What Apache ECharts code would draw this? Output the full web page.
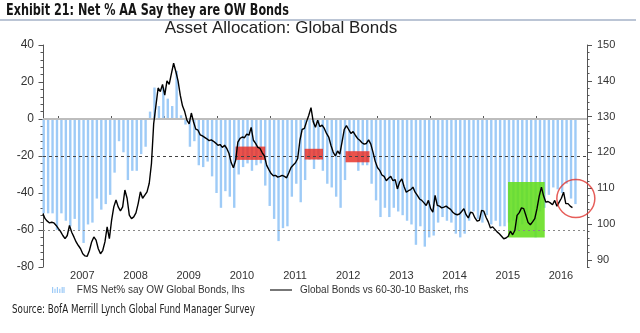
<!DOCTYPE html>
<html><head><meta charset="utf-8">
<script src="https://cdn.jsdelivr.net/npm/echarts@6/dist/echarts.min.js"></script>
<style>html,body{margin:0;padding:0;background:#fff}#c{width:640px;height:333px}</style>
</head><body><div id="c"></div>
<script>
// ---- data ----
const barStart = 2006.733;          // first monthly survey (decimal year)
const barStep = 1 / 12;
const fmsNetOW = [
 -51,-51,-51,-60,-51,-55,-58,-54,-60,-67,-57,-56,
 -43,-49,-46,-41,-29,-12,-18,-33,-28,-28,-19,-15,
 4,17,7,17,11,7,26,2,-3,-15,-12,-25,
 -26,-23,-31,-40,-48,-39,-42,-48,-30,-26,-24,-28,
 -25,-24,-36,-47,-54,-66,-59,-58,-42,-35,-45,-33,
 -22,-27,-22,-28,-35,-37,-42,-48,-33,-20,-18,-28,
 -25,-25,-35,-44,-53,-48,-53,-48,-50,-52,-55,-57,
 -68,-58,-69,-64,-63,-56,-53,-55,-56,-62,-64,-62,
 -55,-50,-54,-56,-52,-57,-55,-58,-58,-56,-55,-60,
 -57,-52,-56,-64,-50,-48,-41,-37,-38,-40,-35,-43,
 -46
];
const lineStart = 2006.718;         // half-monthly readings
const lineStep = 1 / 24;
const bondsVsBasket = [
 102.9,101.5,100.8,100.3,100.5,100.3,99.6,98.7,97.9,96.8,
 95.9,96.8,99.6,97.7,96.4,95.0,94.0,93.1,91.7,91.1,
 91.0,92.6,95.0,96.4,95.5,93.1,91.7,92.6,95.0,99.2,
 95.9,101.0,104.8,106.7,104.8,103.7,104.8,109.5,107.2,102.5,
 101.5,102.0,103.1,105.7,109.0,107.2,108.1,109.0,111.4,116.9,
 128,133,138,137,139,136,140,139,142,144.9,
 142.6,140,136,133,131.4,129,128,131,128.5,126.5,
 126.2,124.9,124.6,124.2,123.8,123.3,123.5,123.1,122.6,122.0,
 122.2,121.4,122.0,121.1,119.7,117.1,115.7,117.8,122.9,123.9,
 124.3,124.1,125.1,124.8,127.0,123.4,122.5,121.4,121.1,119.9,
 119.0,116.4,115.2,114.1,113.5,113.6,113.1,113.3,113.6,113.3,
 112.9,114.3,115.8,116.5,117.1,118.3,123.4,126.4,126.7,128.6,
 130.4,132.5,128.6,127.0,129.0,127.2,127.6,126.7,125.3,124.3,
 122.0,120.1,119.0,120.4,119.5,122.9,126.4,127.5,126.4,125.3,
 125.8,124.8,123.9,123.4,122.7,122.3,122.5,123.5,122.3,120.0,
 117.5,115.8,115.0,113.7,113.3,112.1,112.8,113.3,112.1,112.4,
 109.8,111.7,112.6,110.5,108.9,109.3,109.6,110.3,108.9,108.0,
 107.0,106.6,105.9,105.2,106.6,104.3,103.3,108.0,105.2,105.0,
 104.5,104.7,105.0,104.5,104.1,103.3,102.8,102.6,102.8,103.5,
 104.3,102.6,101.7,103.3,103.1,101.7,100.8,101.0,103.8,103.6,
 101.9,100.6,98.9,99.2,98.5,97.8,97.3,96.6,95.9,96.1,
 96.6,98.0,97.0,98.2,102.4,103.2,104.5,104.3,102.4,100.4,
 99.8,100.6,101.5,104.3,107.8,110.3,107.8,106.1,106.3,105.9,
 105.4,106.6,105.0,106.1,107.2,108.9,105.7,105.7,105.0,104.6
];
const yearTicks = [2007,2008,2009,2010,2011,2012,2013,2014,2015,2016];
const leftMin = -80, leftMax = 40, leftStep = 20;
const rightLabels = [90,100,110,120,130,140,150];
const rightMinor = [];
for (let v = 88; v <= 150; v += 2) rightMinor.push(v);
const refLevels = [{v: 0, kind: 'zero'}, {v: -20, kind: 'dash'}, {v: -60, kind: 'dot'}];
// highlight boxes [fromYear, toYear, topLhs, bottomLhs]
const redBoxes = [[2010.34,2010.90,-14.9,-22.1],[2011.64,2011.985,-16.1,-21.9],[2012.41,2012.86,-17.4,-23.4]];
const greenBoxes = [[2015.465,2016.155,-34,-64]];
const circleMarks = [[2016.74,107.1]];   // rhs units

const barName = 'FMS Net% say OW Global Bonds, lhs';
const lineName = 'Global Bonds vs 60-30-10 Basket, rhs';

const boxRender = (fill) => (params, api) => {
  const a = api.coord([api.value(0), api.value(2)]);
  const b = api.coord([api.value(1), api.value(3)]);
  return {type: 'rect', shape: {x: a[0], y: a[1], width: b[0] - a[0], height: b[1] - a[1]}, style: {fill: fill}};
};

const font = '"Liberation Sans", Arial, sans-serif';
const narrow = '"Liberation Sans Narrow", "DejaVu Sans Condensed", "Liberation Sans", sans-serif';
const axisGray = '#555';

const chart = echarts.init(document.getElementById('c'), null, {renderer: 'canvas'});
chart.setOption({
  animation: false,
  backgroundColor: '#fff',
  grid: {left: 43, right: 53, top: 45, bottom: 66, outerBoundsMode: 'none', containLabel: false},
  graphic: [
    {type: 'text', x: 6, y: 10.5, scaleX: 0.78, originX: 0, originY: 0,
     style: {text: 'Exhibit 21: Net % AA Say they are OW Bonds', font: 'bold 16px ' + narrow, fill: '#151515', verticalAlign: 'middle'}},
    {type: 'line', shape: {x1: 0, y1: 20, x2: 636, y2: 20}, style: {stroke: '#a5b2c7', lineWidth: 1.5}},
    {type: 'text', x: 281, y: 28.5, style: {text: 'Asset Allocation: Global Bonds', font: '17px ' + font, fill: '#222', align: 'center', verticalAlign: 'middle'}},
    {type: 'text', x: 12, y: 310, scaleX: 0.81, originX: 0, originY: 0,
     style: {text: 'Source: BofA Merrill Lynch Global Fund Manager Survey', font: '12px ' + narrow, fill: '#222', verticalAlign: 'middle'}}
  ],
  legend: [
    {left: 47, top: 280, itemWidth: 21, itemHeight: 6, selectedMode: false,
     textStyle: {fontFamily: font, fontSize: 10, color: '#333', padding: [0, 0, 0, 3]},
     data: [{name: barName, icon: 'path://M0,0h2v10h-2zM4,3h2v7h-2zM8,0h2v10h-2zM12,3h2v7h-2zM16,0h2v10h-2zM19,0h2v10h-2z', itemStyle: {color: '#9ecbf7'}}]},
    {left: 265, top: 280, itemWidth: 22, itemHeight: 2, selectedMode: false,
     textStyle: {fontFamily: font, fontSize: 10, color: '#333', padding: [0, 0, 0, 3]},
     data: [{name: lineName, icon: 'rect', itemStyle: {color: '#777'}}]}
  ],
  xAxis: {
    type: 'value', min: 2006.72, max: 2016.95,
    axisLine: {show: true, lineStyle: {color: '#777', width: 1}},
    axisTick: {show: true, inside: true, length: 3, customValues: yearTicks, lineStyle: {color: '#555'}},
    axisLabel: {customValues: yearTicks.map(y => y + 0.46), formatter: v => String(Math.floor(v)), fontFamily: font, fontSize: 11, color: '#333', margin: 3},
    splitLine: {show: false}
  },
  yAxis: [
    {type: 'value', min: leftMin, max: leftMax, interval: leftStep, position: 'left',
     axisLine: {show: true, lineStyle: {color: axisGray}},
     axisTick: {show: true, length: 4.5, lineStyle: {color: axisGray}},
     minorTick: {show: true, splitNumber: 5, length: 2.5, lineStyle: {color: axisGray}},
     axisLabel: {fontFamily: font, fontSize: 12, color: '#333', margin: 9},
     splitLine: {show: false}},
    {type: 'value', min: 88, max: 150, position: 'right',
     axisLine: {show: true, lineStyle: {color: axisGray}},
     axisTick: {show: true, length: 2.5, customValues: rightMinor, lineStyle: {color: axisGray}},
     axisLabel: {customValues: rightLabels, fontFamily: font, fontSize: 11, color: '#333', margin: 10},
     splitLine: {show: false}},
    {type: 'value', min: 88, max: 150, position: 'right',
     axisLine: {show: false},
     axisTick: {show: true, length: 5, customValues: rightLabels, lineStyle: {color: axisGray}},
     axisLabel: {show: false},
     splitLine: {show: false}}
  ],
  series: [
    {name: barName, type: 'bar', xAxisIndex: 0, yAxisIndex: 0, z: 2, barWidth: 2.4,
     itemStyle: {color: '#9ecbf7'},
     data: fmsNetOW.map((v, i) => [barStart + i * barStep, v])},
    {name: 'redBoxes', type: 'custom', xAxisIndex: 0, yAxisIndex: 0, z: 3, silent: true,
     encode: {x: [0, 1], y: [2, 3]}, renderItem: boxRender('rgba(230,45,35,0.82)'), data: redBoxes},
    {name: 'greenBoxes', type: 'custom', xAxisIndex: 0, yAxisIndex: 0, z: 3, silent: true,
     encode: {x: [0, 1], y: [2, 3]}, renderItem: boxRender('rgba(100,222,30,0.88)'), data: greenBoxes},
    {name: 'refs', type: 'line', xAxisIndex: 0, yAxisIndex: 0, z: 4, data: [], silent: true,
     markLine: {silent: true, symbol: ['none', 'none'], label: {show: false}, animation: false,
       data: refLevels.map(r => ({yAxis: r.v, lineStyle: r.kind === 'zero' ? {color: '#bdbdbd', width: 2, type: 'solid'} : r.kind === 'dash' ? {color: '#444', width: 1, type: [3, 3]} : {color: '#888', width: 1, type: [2, 3]}}))}},
    {name: lineName, type: 'line', xAxisIndex: 0, yAxisIndex: 1, z: 5, symbol: 'none',
     lineStyle: {color: '#000', width: 1.4}, itemStyle: {color: '#000'},
     data: bondsVsBasket.map((v, i) => [lineStart + i * lineStep, v])},
    {name: 'circle', type: 'scatter', xAxisIndex: 0, yAxisIndex: 1, z: 6, silent: true, clip: false,
     symbol: 'circle', symbolSize: 38,
     itemStyle: {color: 'rgba(0,0,0,0)', borderColor: '#e0352f', borderWidth: 1.5},
     data: circleMarks}
  ]
});
</script></body></html>
